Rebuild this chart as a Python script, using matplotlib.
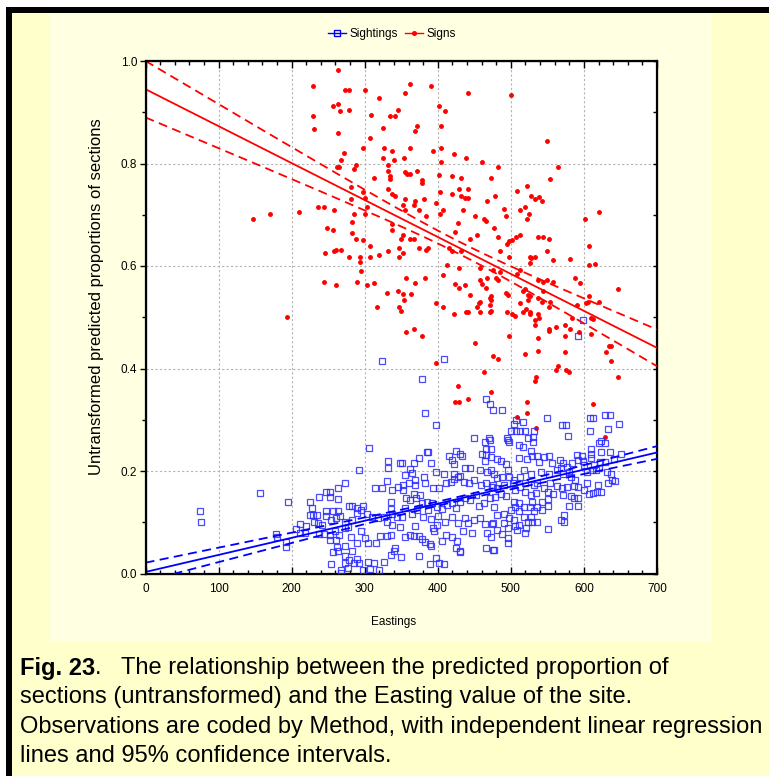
import numpy as np
import matplotlib
matplotlib.use('Agg')
import matplotlib.pyplot as plt
from matplotlib.lines import Line2D
from matplotlib.patches import Rectangle
from matplotlib.ticker import MultipleLocator, FormatStrFormatter

# Signs: (Eastings, proportion)
SIGNS = np.array([
    (147, 0.691), (170, 0.701), (193, 0.500),
    (264, 0.983), (229, 0.951), (273, 0.944), (278, 0.944), (301, 0.944), (362, 0.955),
    (355, 0.937), (320, 0.927), (257, 0.913), (264, 0.916), (266, 0.902), (278, 0.905),
    (345, 0.905), (229, 0.892), (308, 0.895), (335, 0.892), (342, 0.892), (231, 0.867),
    (325, 0.870), (263, 0.860), (369, 0.864), (307, 0.849), (298, 0.831), (327, 0.831),
    (362, 0.831), (337, 0.824), (271, 0.821), (325, 0.810), (340, 0.807), (354, 0.810),
    (268, 0.807), (288, 0.797), (286, 0.790), (262, 0.793), (265, 0.793), (332, 0.797),
    (332, 0.786), (334, 0.776), (334, 0.769), (355, 0.783), (362, 0.779), (358, 0.779),
    (313, 0.772), (281, 0.754), (332, 0.751), (337, 0.741), (342, 0.737), (298, 0.744),
    (281, 0.730), (355, 0.730), (369, 0.727), (300, 0.733), (303, 0.716), (236, 0.716),
    (244, 0.716), (258, 0.710), (210, 0.706), (286, 0.702), (301, 0.702), (352, 0.719),
    (355, 0.710), (367, 0.719), (283, 0.685), (337, 0.681), (337, 0.671), (249, 0.674),
    (256, 0.671), (283, 0.664), (352, 0.660), (349, 0.653), (362, 0.653), (367, 0.653),
    (288, 0.653), (298, 0.650), (307, 0.639), (347, 0.636), (352, 0.626), (268, 0.632),
    (261, 0.632), (258, 0.629), (246, 0.626), (332, 0.629), (320, 0.622), (278, 0.618),
    (293, 0.618), (307, 0.618), (347, 0.618), (293, 0.608), (295, 0.590), (244, 0.569),
    (261, 0.562), (290, 0.569), (303, 0.562), (313, 0.566), (357, 0.576), (369, 0.566),
    (330, 0.548), (345, 0.551), (352, 0.545), (364, 0.545), (354, 0.534), (317, 0.520),
    (347, 0.520), (349, 0.513), (357, 0.471), (367, 0.478),
    (391, 0.951), (442, 0.937), (500, 0.933), (402, 0.913), (410, 0.902), (371, 0.874),
    (405, 0.874), (405, 0.831), (393, 0.824), (422, 0.818), (439, 0.810), (461, 0.803),
    (405, 0.803), (483, 0.793), (371, 0.786), (402, 0.778), (379, 0.768), (379, 0.761),
    (419, 0.775), (432, 0.772), (473, 0.772), (509, 0.747), (522, 0.757), (429, 0.750),
    (442, 0.750), (420, 0.740), (432, 0.736), (437, 0.733), (442, 0.733), (381, 0.730),
    (403, 0.744), (478, 0.736), (468, 0.726), (398, 0.723), (528, 0.736), (533, 0.730),
    (374, 0.709), (407, 0.709), (434, 0.709), (490, 0.712), (520, 0.715), (512, 0.709),
    (384, 0.698), (403, 0.702), (451, 0.698), (493, 0.698), (525, 0.702), (522, 0.691),
    (463, 0.691), (466, 0.688), (428, 0.684), (477, 0.674), (424, 0.667), (454, 0.660),
    (444, 0.653), (483, 0.656), (512, 0.660), (507, 0.656), (374, 0.635), (386, 0.635),
    (384, 0.632), (415, 0.636), (420, 0.629), (432, 0.629), (495, 0.643), (497, 0.649),
    (502, 0.650), (485, 0.629), (498, 0.618), (526, 0.618), (528, 0.615), (533, 0.618),
    (412, 0.601), (429, 0.597), (458, 0.597), (526, 0.605), (475, 0.593), (485, 0.588),
    (513, 0.593), (509, 0.584), (407, 0.583), (383, 0.576), (458, 0.572), (461, 0.565),
    (466, 0.558), (468, 0.576), (480, 0.576), (483, 0.572), (424, 0.565), (429, 0.558),
    (437, 0.562), (444, 0.544), (473, 0.541), (473, 0.534), (471, 0.538), (493, 0.548),
    (496, 0.544), (516, 0.551), (520, 0.555), (523, 0.544), (526, 0.541), (523, 0.534),
    (458, 0.530), (456, 0.527), (397, 0.527), (512, 0.527), (407, 0.520), (454, 0.520),
    (471, 0.523), (473, 0.513), (439, 0.510), (442, 0.510), (422, 0.506), (458, 0.510),
    (471, 0.510), (495, 0.510), (502, 0.506), (505, 0.502), (517, 0.510), (521, 0.517),
    (526, 0.510), (526, 0.506), (533, 0.495), (378, 0.464), (497, 0.464), (451, 0.450),
    (520, 0.428), (476, 0.425), (483, 0.418), (398, 0.411), (463, 0.394), (427, 0.365),
    (424, 0.334), (429, 0.334), (442, 0.341), (473, 0.355), (533, 0.376), (522, 0.334),
    (522, 0.313), (509, 0.306),
    (549, 0.843), (564, 0.793), (554, 0.769), (538, 0.734), (542, 0.727), (601, 0.691),
    (620, 0.706), (537, 0.656), (544, 0.656), (552, 0.653), (607, 0.639), (549, 0.629),
    (557, 0.611), (581, 0.614), (607, 0.601), (615, 0.604), (588, 0.576), (595, 0.566),
    (646, 0.555), (537, 0.572), (544, 0.569), (549, 0.572), (557, 0.569), (537, 0.538),
    (544, 0.551), (542, 0.530), (554, 0.530), (552, 0.520), (607, 0.541), (605, 0.530),
    (603, 0.527), (620, 0.530), (590, 0.524), (537, 0.506), (539, 0.499), (533, 0.485),
    (583, 0.499), (610, 0.499), (612, 0.496), (562, 0.481), (574, 0.485), (581, 0.478),
    (552, 0.478), (552, 0.474), (593, 0.471), (610, 0.467), (537, 0.460), (574, 0.464),
    (634, 0.443), (637, 0.443), (630, 0.432), (574, 0.432), (637, 0.414), (537, 0.435),
    (564, 0.404), (562, 0.397), (576, 0.397), (579, 0.393), (646, 0.383), (535, 0.383),
    (612, 0.330), (535, 0.284), (629, 0.266),
])

# Sightings: (Eastings, proportion)
SIGHTINGS = np.array([
    (74, 0.122), (76, 0.101), (157, 0.157), (195, 0.139), (178, 0.077), (180, 0.071),
    (192, 0.061), (192, 0.052), (323, 0.415), (379, 0.380), (383, 0.313), (306, 0.244),
    (292, 0.202), (599, 0.495), (592, 0.463), (408, 0.419), (398, 0.289), (466, 0.341),
    (472, 0.331), (476, 0.320), (488, 0.320), (507, 0.300), (516, 0.296), (504, 0.292),
    (500, 0.279), (507, 0.279), (513, 0.279), (519, 0.279), (531, 0.279), (449, 0.264),
    (470, 0.264), (495, 0.264), (524, 0.264), (550, 0.303), (570, 0.289), (576, 0.289),
    (578, 0.268), (608, 0.303), (613, 0.303), (629, 0.310), (636, 0.310), (648, 0.292),
    (608, 0.279), (633, 0.282), (623, 0.258),
    (211, 0.097), (206, 0.087), (211, 0.080), (220, 0.093), (218, 0.080), (225, 0.140),
    (228, 0.128), (225, 0.115), (237, 0.150), (247, 0.160), (252, 0.160), (252, 0.150),
    (264, 0.167), (264, 0.146), (273, 0.177), (278, 0.132), (247, 0.122), (256, 0.122),
    (264, 0.122), (229, 0.115), (235, 0.115), (230, 0.100), (236, 0.098), (242, 0.095),
    (247, 0.112), (254, 0.104), (261, 0.109), (266, 0.112), (273, 0.100), (237, 0.078),
    (244, 0.078), (253, 0.076), (259, 0.082), (265, 0.075), (252, 0.065), (261, 0.065),
    (262, 0.052), (273, 0.054), (264, 0.043), (256, 0.041), (273, 0.035), (273, 0.088),
    (254, 0.018), (273, 0.021), (277, 0.010), (268, 0.007), (267, 0.001),
    (465, 0.257), (471, 0.260), (466, 0.243), (473, 0.243), (460, 0.233), (466, 0.231),
    (473, 0.228), (464, 0.220), (425, 0.240), (431, 0.234), (433, 0.229), (416, 0.229),
    (419, 0.221), (422, 0.213), (385, 0.237), (387, 0.237), (391, 0.216), (374, 0.226),
    (367, 0.216), (362, 0.203), (365, 0.196), (348, 0.216), (351, 0.216), (332, 0.220),
    (332, 0.205), (355, 0.193), (398, 0.199), (408, 0.195), (422, 0.195), (431, 0.191),
    (437, 0.205), (444, 0.205), (458, 0.202), (467, 0.199), (473, 0.201), (330, 0.181),
    (314, 0.167), (323, 0.167), (338, 0.163), (345, 0.168), (353, 0.172), (353, 0.162),
    (360, 0.176), (369, 0.182), (369, 0.172), (381, 0.189), (383, 0.176), (394, 0.167),
    (402, 0.167), (411, 0.176), (418, 0.179), (422, 0.185), (428, 0.189), (436, 0.179),
    (443, 0.176), (449, 0.182), (459, 0.173), (466, 0.176), (474, 0.169), (283, 0.132),
    (290, 0.128), (295, 0.123), (303, 0.117), (310, 0.111), (289, 0.119), (282, 0.104),
    (277, 0.091), (298, 0.132), (318, 0.108), (326, 0.111), (330, 0.101), (336, 0.140),
    (336, 0.125), (337, 0.117), (344, 0.111), (351, 0.111), (356, 0.148), (362, 0.143),
    (367, 0.155), (370, 0.148), (375, 0.153), (378, 0.137), (385, 0.140), (392, 0.137),
    (387, 0.124), (399, 0.130), (406, 0.126), (412, 0.134), (419, 0.137), (425, 0.127),
    (431, 0.140), (437, 0.147), (444, 0.143), (452, 0.153), (456, 0.132), (463, 0.137),
    (472, 0.147), (355, 0.127), (365, 0.117), (372, 0.124), (380, 0.111), (391, 0.107),
    (400, 0.112), (410, 0.101), (420, 0.111), (427, 0.098), (437, 0.108), (441, 0.098),
    (449, 0.104), (458, 0.108), (465, 0.097), (474, 0.097), (295, 0.082), (300, 0.069),
    (281, 0.072), (290, 0.059), (282, 0.043), (305, 0.060), (316, 0.059), (321, 0.073),
    (330, 0.073), (338, 0.095), (336, 0.075), (342, 0.049), (336, 0.036), (348, 0.091),
    (355, 0.072), (362, 0.075), (369, 0.093), (374, 0.074), (367, 0.073), (379, 0.067),
    (383, 0.062), (391, 0.054), (394, 0.088), (399, 0.095), (395, 0.082), (406, 0.064),
    (411, 0.075), (419, 0.072), (426, 0.064), (431, 0.043), (435, 0.082), (447, 0.080),
    (468, 0.080), (473, 0.072), (349, 0.033), (340, 0.043), (292, 0.021), (278, 0.026),
    (285, 0.020), (290, 0.028), (304, 0.023), (313, 0.020), (327, 0.022), (307, 0.009),
    (319, 0.007), (298, 0.007), (389, 0.018), (397, 0.030), (401, 0.021), (408, 0.019),
    (374, 0.035), (390, 0.057), (425, 0.049), (430, 0.042), (466, 0.049), (476, 0.046),
    (496, 0.260), (498, 0.257), (511, 0.251), (516, 0.247), (530, 0.267), (530, 0.257),
    (527, 0.240), (621, 0.255), (629, 0.255), (635, 0.238), (624, 0.237), (609, 0.243),
    (609, 0.234), (609, 0.225), (597, 0.229), (599, 0.220), (641, 0.223), (651, 0.233),
    (622, 0.218), (629, 0.218), (481, 0.223), (486, 0.220), (494, 0.213), (496, 0.201),
    (511, 0.226), (522, 0.223), (529, 0.229), (536, 0.229), (545, 0.228), (539, 0.218),
    (552, 0.229), (556, 0.216), (567, 0.221), (572, 0.215), (577, 0.208), (584, 0.215),
    (590, 0.231), (592, 0.221), (600, 0.212), (614, 0.212), (617, 0.202), (604, 0.199),
    (611, 0.202), (620, 0.205), (631, 0.199), (637, 0.195), (497, 0.189), (504, 0.182),
    (512, 0.189), (518, 0.202), (527, 0.195), (541, 0.199), (552, 0.195), (563, 0.202),
    (568, 0.205), (572, 0.194), (579, 0.199), (582, 0.189), (588, 0.182), (604, 0.177),
    (619, 0.173), (633, 0.177), (638, 0.182), (643, 0.180), (607, 0.156), (613, 0.158),
    (618, 0.160), (624, 0.160), (477, 0.195), (481, 0.186), (488, 0.189), (475, 0.173),
    (481, 0.166), (490, 0.173), (478, 0.150), (486, 0.155), (494, 0.151), (503, 0.176),
    (505, 0.163), (512, 0.169), (520, 0.176), (531, 0.173), (536, 0.176), (520, 0.160),
    (527, 0.153), (534, 0.158), (545, 0.166), (551, 0.160), (554, 0.176), (563, 0.171),
    (570, 0.166), (577, 0.169), (586, 0.171), (592, 0.168), (572, 0.153), (582, 0.152),
    (587, 0.147), (592, 0.147), (600, 0.163), (580, 0.132), (592, 0.132), (573, 0.114),
    (573, 0.101), (569, 0.104), (551, 0.132), (551, 0.145), (557, 0.156), (543, 0.140),
    (536, 0.130), (543, 0.123), (529, 0.140), (526, 0.130), (531, 0.121), (518, 0.130),
    (511, 0.137), (504, 0.140), (518, 0.111), (527, 0.111), (536, 0.101), (529, 0.101),
    (523, 0.101), (500, 0.124), (506, 0.130), (511, 0.121), (490, 0.117), (497, 0.108),
    (490, 0.098), (477, 0.130), (481, 0.114), (475, 0.098), (504, 0.104), (511, 0.094),
    (481, 0.085), (488, 0.078), (496, 0.088), (505, 0.093), (508, 0.085), (521, 0.088),
    (519, 0.080), (551, 0.086), (496, 0.069), (496, 0.060), (477, 0.046),
])

# fitted lines as drawn in the chart: (intercept, slope)
SIGNS_FIT = (0.945, -0.000721)
SIGHTINGS_FIT = (0.003, 0.000333)
# 95% band half-width = sqrt(a^2 + (b * (x - x_mean))^2): (a, b, x_mean)
SIGNS_CI = (0.012, 1.25e-4, 430)
SIGHTINGS_CI = (0.004, 4.2e-5, 420)

X_TICKS = [0, 100, 200, 300, 400, 500, 600, 700]
Y_TICKS = [0.0, 0.2, 0.4, 0.6, 0.8, 1.0]
LEGEND_LABELS = ["Sightings", "Signs"]

CAPTION_BOLD = "Fig. 23"
CAPTION = [
    ".   The relationship between the predicted proportion of",
    "sections (untransformed) and the Easting value of the site.",
    "Observations are coded by Method, with independent linear regression",
    "lines and 95% confidence intervals.",
]

BLUE = "#0000ff"
RED = "#ff0000"
W, H = 769, 776

plt.rcParams['font.family'] = ['Liberation Sans', 'DejaVu Sans']

fig = plt.figure(figsize=(W / 100, H / 100), dpi=100)
fig.patch.set_facecolor('#ffffcc')


def box(x0, y0, x1, y1, color):
    # rectangle in pixel coords measured from the top left
    fig.add_artist(Rectangle((x0 / W, 1 - y1 / H), (x1 - x0) / W, (y1 - y0) / H,
                             transform=fig.transFigure, facecolor=color,
                             edgecolor='none', zorder=-5))


box(0, 0, W, 7, 'white')
box(0, 0, 6, H, 'white')
box(6, 7, W, 13, 'black')
box(6, 7, 12, H, 'black')
box(50, 14, 712, 642, '#ffffe2')

ax = fig.add_axes([145.5 / W, 1 - 573.5 / H, (657 - 145.5) / W, (573.5 - 61) / H])
ax.set_facecolor('white')

ax.plot(SIGNS[:, 0], SIGNS[:, 1], ls='none', marker='o', ms=2.5,
        color=RED, mec=RED, zorder=3)
ax.plot(SIGHTINGS[:, 0], SIGHTINGS[:, 1], ls='none', marker='s', ms=4.3,
        mfc='none', mec='#2b2bff', mew=0.9, alpha=0.85, zorder=4)

xs = np.linspace(0, 700, 300)
for fit, ci, col in ((SIGNS_FIT, SIGNS_CI, RED), (SIGHTINGS_FIT, SIGHTINGS_CI, BLUE)):
    yfit = fit[0] + fit[1] * xs
    hw = np.sqrt(ci[0] ** 2 + (ci[1] * (xs - ci[2])) ** 2)
    ax.plot(xs, yfit, color=col, lw=1.3, zorder=5)
    ax.plot(xs, yfit + hw, color=col, lw=1.3, ls=(0, (5, 3)), zorder=5)
    ax.plot(xs, yfit - hw, color=col, lw=1.3, ls=(0, (5, 3)), zorder=5)

ax.set_xlim(0, 700)
ax.set_ylim(0, 1.0)
ax.set_xticks(X_TICKS)
ax.set_yticks(Y_TICKS)
ax.xaxis.set_minor_locator(MultipleLocator(20))
ax.yaxis.set_minor_locator(MultipleLocator(0.1))
ax.yaxis.set_major_formatter(FormatStrFormatter('%.1f'))
ax.grid(which='major', color='#b4b4b4', ls=(0, (2, 2)), lw=0.8)
ax.set_axisbelow(True)
ax.tick_params(axis='x', which='both', direction='in', top=True,
               labelsize=8.5, pad=7, width=1)
ax.tick_params(axis='x', which='major', length=5)
ax.tick_params(axis='x', which='minor', length=3)
ax.tick_params(axis='y', which='both', direction='out', labelsize=8.5,
               pad=2, width=1)
ax.tick_params(axis='y', which='major', length=4)
ax.tick_params(axis='y', which='minor', length=3)
for s in ax.spines.values():
    s.set_linewidth(1.6)

ax2 = ax.twinx()
ax2.set_ylim(0, 1.0)
ax2.set_yticks(Y_TICKS)
ax2.yaxis.set_minor_locator(MultipleLocator(0.1))
ax2.tick_params(axis='y', which='both', direction='in', labelright=False,
                length=3, width=1)

fig.text(394 / W, 1 - 622 / H, "Eastings", fontsize=8.5, ha='center', va='center')
fig.text(97 / W, 1 - 297 / H, "Untransformed predicted proportions of sections",
         fontsize=12, rotation=90, ha='center', va='center')

handles = [
    Line2D([], [], color=BLUE, lw=1, marker='s', ms=4, mfc='none', mec=BLUE),
    Line2D([], [], color=RED, lw=1, marker='o', ms=2.6),
]
fig.legend(handles, LEGEND_LABELS, loc='center', bbox_to_anchor=(392 / W, 1 - 34 / H),
           ncol=2, frameon=False, fontsize=8.5, handlelength=1.5,
           handletextpad=0.3, columnspacing=0.6)

cap_size = 17
line_y = [668, 697, 727, 756]
t0 = fig.text(20 / W, 1 - line_y[0] / H, CAPTION_BOLD, fontsize=cap_size,
              weight='bold', va='center')
fig.canvas.draw()
bb = t0.get_window_extent()
fig.text(bb.x1 / W, 1 - line_y[0] / H, CAPTION[0], fontsize=cap_size, va='center')
for txt, y in zip(CAPTION[1:], line_y[1:]):
    fig.text(20 / W, 1 - y / H, txt, fontsize=cap_size, va='center')

fig.savefig('out.png', dpi=100, facecolor=fig.get_facecolor())
